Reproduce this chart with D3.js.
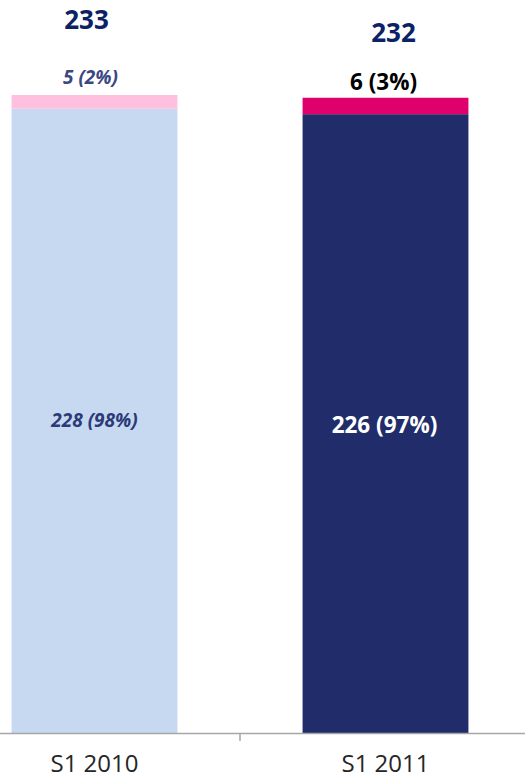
<!DOCTYPE html>
<html>
<head>
<meta charset="utf-8">
<script src="https://cdn.jsdelivr.net/npm/d3@7"></script>
<style>
  body { margin: 0; background: #fff; }
  svg { display: block; font-family: "Open Sans", Lato, sans-serif; }
</style>
</head>
<body>
<div class="chart"></div>
<script>
// data
var categories = ["S1 2010", "S1 2011"];
var baseValues = [228, 226];
var topValues = [5, 6];
var totals = [233, 232];
var baseLabels = ["228 (98%)", "226 (97%)"];
var topLabels = ["5 (2%)", "6 (3%)"];

var width = 525, height = 778;
var axisY = 733;

var svg = d3.select(".chart").append("svg")
    .attr("width", width)
    .attr("height", height);

var x = d3.scaleBand()
    .domain(categories)
    .range([-51, 531])
    .paddingInner(0.43)
    .paddingOuter(0.215);

var y = d3.scaleLinear()
    .domain([0, 267.7])
    .range([axisY, 0]);

var baseColor = ["#c6d9f0", "#212d6a"];
var topColor = ["#ffbfdf", "#e0006c"];

// bottom segment
svg.selectAll("rect.base")
    .data(baseValues)
    .enter().append("rect")
    .attr("class", "base")
    .attr("x", function (d, i) { return x(categories[i]); })
    .attr("y", function (d) { return y(d); })
    .attr("width", x.bandwidth())
    .attr("height", function (d) { return axisY - y(d); })
    .attr("fill", function (d, i) { return baseColor[i]; });

// top segment
svg.selectAll("rect.top")
    .data(topValues)
    .enter().append("rect")
    .attr("class", "top")
    .attr("x", function (d, i) { return x(categories[i]); })
    .attr("y", function (d, i) { return y(baseValues[i] + d); })
    .attr("width", x.bandwidth())
    .attr("height", function (d) { return axisY - y(d); })
    .attr("fill", function (d, i) { return topColor[i]; });

// axis line + tick between categories
svg.append("line")
    .attr("x1", 0).attr("x2", width)
    .attr("y1", axisY + 0.5).attr("y2", axisY + 0.5)
    .attr("stroke", "#a6a6a6").attr("stroke-width", 1.5);

var step = x.step();
var tickX = x(categories[1]) - step * x.paddingInner() / 2;
svg.append("line")
    .attr("x1", tickX).attr("x2", tickX)
    .attr("y1", axisY).attr("y2", axisY + 8)
    .attr("stroke", "#a6a6a6").attr("stroke-width", 1.5);

// category labels
svg.selectAll("text.cat")
    .data(categories)
    .enter().append("text")
    .attr("class", "cat")
    .attr("x", function (d) { return x(d) + x.bandwidth() / 2; })
    .attr("y", 772)
    .attr("text-anchor", "middle")
    .style("font-size", "24px")
    .attr("fill", "#262626")
    .text(function (d) { return d; });

var mid = function (i) { return x(categories[i]) + x.bandwidth() / 2; };

// totals (text boxes not quite centred in the original)
var totalDx = [-8, 8];
var totalY = [29, 42];
svg.selectAll("text.total")
    .data(totals)
    .enter().append("text")
    .attr("class", "total")
    .attr("x", function (d, i) { return mid(i) + totalDx[i]; })
    .attr("y", function (d, i) { return totalY[i]; })
    .attr("text-anchor", "middle")
    .style("font-size", "26px")
    .style("font-weight", "bold")
    .attr("fill", "#0b2265")
    .text(function (d) { return d; });

// top segment labels
var topDx = [-4, -2];
var topDy = [-11, -8];
var topSize = ["19px", "22.5px"];
var topFill = ["#3b4784", "#000000"];
var topStyle = ["italic", "normal"];
svg.selectAll("text.toplab")
    .data(topLabels)
    .enter().append("text")
    .attr("class", "toplab")
    .attr("x", function (d, i) { return mid(i) + topDx[i]; })
    .attr("y", function (d, i) { return y(totals[i]) + topDy[i]; })
    .attr("text-anchor", "middle")
    .style("font-size", function (d, i) { return topSize[i]; })
    .style("font-style", function (d, i) { return topStyle[i]; })
    .style("font-weight", "bold")
    .attr("fill", function (d, i) { return topFill[i]; })
    .text(function (d) { return d; });

// base segment labels
var baseDx = [0, -1];
var baseSize = ["19px", "22.5px"];
var baseFill = ["#2c3a78", "#ffffff"];
var baseStyle = ["italic", "normal"];
svg.selectAll("text.baselab")
    .data(baseLabels)
    .enter().append("text")
    .attr("class", "baselab")
    .attr("x", function (d, i) { return mid(i) + baseDx[i]; })
    .attr("y", function (d, i) { return (y(baseValues[i]) + axisY) / 2 + 6 + i * 3; })
    .attr("text-anchor", "middle")
    .style("font-size", function (d, i) { return baseSize[i]; })
    .style("font-style", function (d, i) { return baseStyle[i]; })
    .style("font-weight", "bold")
    .attr("fill", function (d, i) { return baseFill[i]; })
    .text(function (d) { return d; });
</script>
</body>
</html>
